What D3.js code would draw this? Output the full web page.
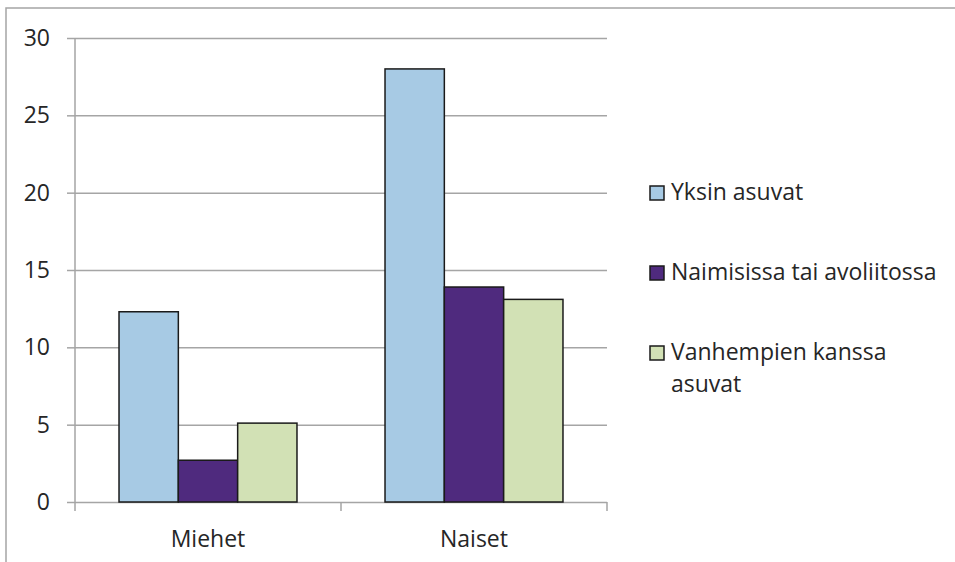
<!DOCTYPE html>
<html>
<head>
<meta charset="utf-8">
<script src="https://cdn.jsdelivr.net/npm/d3@7"></script>
<style>
  html, body { margin: 0; padding: 0; background: #fff; }
</style>
</head>
<body>
<div id="chart"></div>
<script>
const categories = ['Miehet', 'Naiset'];
const seriesNames = ['Yksin asuvat', 'Naimisissa tai avoliitossa', 'Vanhempien kanssa asuvat'];
const seriesValues = [
  [12.3, 28.0],   // Yksin asuvat
  [2.7, 13.9],    // Naimisissa tai avoliitossa
  [5.1, 13.1]     // Vanhempien kanssa asuvat
];
const yTicks = [0, 5, 10, 15, 20, 25, 30];
const colors = ['#a7cae4', '#4f2a7e', '#d2e1b5'];

const W = 955, H = 562;
const margin = { top: 38, right: 348, bottom: 60, left: 75 };
const FONT = '"Open Sans", sans-serif';
const FONT_SIZE = '23px';
const GRID = '#a5a5a5';

const svg = d3.select('#chart').append('svg')
  .attr('width', W).attr('height', H);

// outer chart frame (cropped on right and bottom)
svg.append('rect')
  .attr('x', 6).attr('y', 8).attr('width', W).attr('height', H)
  .attr('fill', 'none').attr('stroke', GRID).attr('stroke-width', 1.5);

const x0 = d3.scaleBand().domain(categories)
  .range([margin.left, W - margin.right]);
const x1 = d3.scaleBand().domain(d3.range(seriesNames.length))
  .range([0, x0.bandwidth()]).paddingOuter(0.742);
const y = d3.scaleLinear().domain([0, 30])
  .range([H - margin.bottom, margin.top]);

// gridlines + y axis
svg.append('g')
  .attr('transform', `translate(${margin.left},0)`)
  .call(d3.axisLeft(y).tickValues(yTicks).tickSize(8).tickPadding(17))
  .call(g => g.select('.domain').remove())
  .call(g => g.selectAll('.tick line').attr('stroke', GRID).attr('stroke-width', 1.5))
  .call(g => g.selectAll('.tick').append('line')
    .attr('x2', x0.range()[1] - margin.left)
    .attr('stroke', GRID).attr('stroke-width', 1.5))
  .call(g => g.selectAll('.tick text')
    .attr('fill', '#262626').attr('font-size', FONT_SIZE).attr('font-family', FONT));

// y axis line
svg.append('line')
  .attr('x1', margin.left).attr('x2', margin.left)
  .attr('y1', y(30)).attr('y2', y(0) + 9)
  .attr('stroke', GRID).attr('stroke-width', 1.5);

// category ticks
svg.append('g').selectAll('line')
  .data(categories)
  .join('line')
  .attr('x1', d => x0(d) + x0.bandwidth()).attr('x2', d => x0(d) + x0.bandwidth())
  .attr('y1', y(0)).attr('y2', y(0) + 9)
  .attr('stroke', GRID).attr('stroke-width', 1.5);

// bars
const groups = svg.append('g').selectAll('g')
  .data(categories)
  .join('g')
  .attr('transform', d => `translate(${x0(d)},0)`);

groups.selectAll('rect')
  .data((d, ci) => seriesValues.map((vals, si) => ({ si, value: vals[ci] })))
  .join('rect')
  .attr('x', d => x1(d.si))
  .attr('width', x1.bandwidth())
  .attr('y', d => y(d.value))
  .attr('height', d => y(0) - y(d.value))
  .attr('fill', d => colors[d.si])
  .attr('stroke', '#1a1a1a').attr('stroke-width', 1.5);

// category labels
svg.append('g').selectAll('text')
  .data(categories)
  .join('text')
  .attr('x', d => x0(d) + x0.bandwidth() / 2)
  .attr('y', y(0) + 45)
  .attr('text-anchor', 'middle')
  .attr('fill', '#262626').attr('font-size', FONT_SIZE).attr('font-family', FONT)
  .text(d => d);

// legend
const legendLines = [['Yksin asuvat'], ['Naimisissa tai avoliitossa'], ['Vanhempien kanssa', 'asuvat']];
const legend = svg.append('g').selectAll('g')
  .data(seriesNames)
  .join('g')
  .attr('transform', (d, i) => `translate(650,${200 + i * 80})`);

legend.append('rect')
  .attr('x', 0).attr('y', -14).attr('width', 14).attr('height', 14)
  .attr('fill', (d, i) => colors[i])
  .attr('stroke', '#1a1a1a').attr('stroke-width', 1.5);

legend.append('text')
  .attr('x', 21).attr('y', 0)
  .attr('fill', '#262626').attr('font-size', FONT_SIZE).attr('font-family', FONT)
  .selectAll('tspan')
  .data((d, i) => legendLines[i])
  .join('tspan')
  .attr('x', 21)
  .attr('dy', (d, j) => j === 0 ? 0 : 32)
  .text(d => d);
</script>
</body>
</html>
